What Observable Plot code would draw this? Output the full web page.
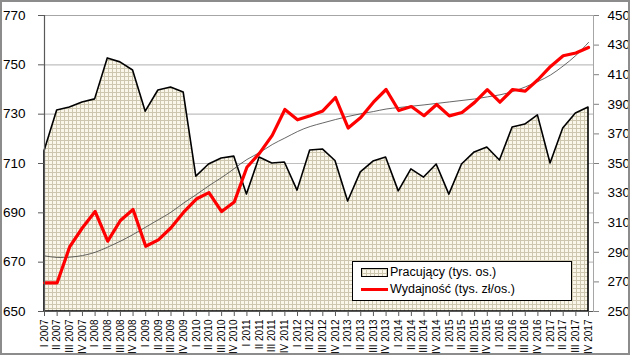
<!DOCTYPE html>
<html>
<head>
<meta charset="utf-8">
<script src="https://cdn.jsdelivr.net/npm/d3@7"></script>
<script src="https://cdn.jsdelivr.net/npm/@observablehq/plot@0.6"></script>
<style>
  html, body { margin: 0; padding: 0; background: #fff; }
  #wrap { position: relative; width: 630px; height: 355px; font-family: "Liberation Sans", Arial, sans-serif; }
  #border { position: absolute; left: 0; top: 0; width: 626px; height: 351px; border: 2px solid #8c8c8c; pointer-events: none; }
  #legend { position: absolute; left: 352px; top: 261px; width: 218px; height: 38px; background: #fff; border: 1px solid #000; font-size: 12.5px; color: #000; }
  .row { position: absolute; left: 8px; display: flex; align-items: center; white-space: nowrap; }
  .sw1 { width: 25px; height: 7px; border: 1px solid #000; margin-right: 2px;
         background-color: #faf7ea;
         background-image: linear-gradient(#cdc7b0 1px, transparent 1px), linear-gradient(90deg, #cdc7b0 1px, transparent 1px);
         background-size: 4px 4px; }
  .sw2 { width: 27px; height: 3px; background: #ff0000; margin-right: 2px; }
</style>
</head>
<body>
<div id="wrap">
  <div id="chart"></div>
  <div id="legend">
    <div class="row" style="top:3px"><div class="sw1"></div><span>Pracujący (tys. os.)</span></div>
    <div class="row" style="top:20px"><div class="sw2"></div><span>Wydajność (tys. zł/os.)</span></div>
  </div>
  <div id="border"></div>
</div>
<script>
const years = [2007, 2008, 2009, 2010, 2011, 2012, 2013, 2014, 2015, 2016, 2017];
const quarterNames = ["I", "II", "III", "IV"];
const quarters = years.flatMap(y => quarterNames.map(q => q + " " + y));

const pracujacy = [715, 731.5, 732.7, 734.7, 736, 752.6, 751, 747.7, 731, 739.6, 740.8, 738.8,
  704.7, 709.6, 712, 712.8, 697.4, 712.4, 710, 710.4, 699, 715.3, 715.7, 711,
  694.6, 706.4, 710.8, 712.4, 698.7, 707.6, 704.3, 709.6, 697.4, 709.6, 714.5, 716.5,
  711.2, 724.6, 725.8, 729.5, 710, 724.2, 730.3, 732.7];

const wydajnosc = [269.4, 269.4, 293.9, 306.6, 317.6, 297.5, 311.5, 318.9, 294.1, 298.4, 306.6, 317.1,
  326, 330.3, 317.5, 324, 347.5, 357, 369, 386.5, 379.5, 382.2, 385.5, 394.6,
  374, 381.1, 391.4, 400, 385.8, 388.5, 382.3, 389.9, 382.2, 384.5, 391.3, 399.9,
  391.4, 400, 398.9, 406.6, 415.6, 422.8, 424.7, 428.4];

const trend = [287.6, 286.5, 286.7, 287.8, 290, 293.5, 297.5, 302, 307, 312, 317.1, 323.3,
  329, 335, 340.5, 346.6, 352.7, 357.4, 362.8, 367.2, 371.6, 375, 377.4, 379.7,
  381.8, 383.6, 385.1, 386.8, 387.8, 388.7, 389.6, 390.6, 391.6, 392.6, 393.6, 395,
  396.4, 398.6, 401.7, 405.4, 409.8, 415.9, 423, 431.8];

const leftTicks = [650, 670, 690, 710, 730, 750, 770];
const rightTicks = [250, 270, 290, 310, 330, 350, 370, 390, 410, 430, 450];

// map right-axis values onto the left-axis scale
const toLeft = d3.scaleLinear().domain([250, 450]).range([650, 770]);

const data = quarters.map((q, i) => ({i, q, prac: pracujacy[i], wyd: wydajnosc[i], tr: trend[i]}));
const idx = quarters.map((q, i) => i);

const chart = Plot.plot({
  width: 630,
  height: 355,
  marginLeft: 44,
  marginRight: 37,
  marginTop: 15,
  marginBottom: 44,
  style: {fontFamily: "'Liberation Sans', Arial, sans-serif", color: "#000", background: "transparent"},
  x: {type: "linear", domain: [0, quarters.length - 1], range: [44, 588]},
  y: {domain: [650, 770], range: [311, 15]},
  marks: [
    Plot.gridY(leftTicks, {stroke: "#bfbfbf", strokeOpacity: 1, strokeWidth: 1.2}),
    Plot.frame({stroke: "#a6a6a6"}),
    Plot.areaY(data, {x: "i", y1: 650, y2: "prac", fill: "url(#hatch)", stroke: "#000", strokeWidth: 1.6}),
    Plot.lineY(data, {x: "i", y: d => toLeft(d.tr), stroke: "#404040", strokeWidth: 0.8, curve: "natural"}),
    Plot.lineY(data, {x: "i", y: d => toLeft(d.wyd), stroke: "#ff0000", strokeWidth: 3.2}),
    Plot.ruleY([650], {stroke: "#595959", strokeWidth: 1.2}),
    Plot.ruleX([0], {stroke: "#595959", strokeWidth: 1.2}),
    Plot.axisY(leftTicks, {anchor: "left", tickSize: 6, tickPadding: 13, fontSize: 13.5, stroke: "#595959", label: null}),
    Plot.axisY(rightTicks.map(v => toLeft(v)), {anchor: "right", tickSize: 5, tickPadding: 9, fontSize: 13.5, stroke: "#808080",
      tickFormat: d => String(Math.round(toLeft.invert(d))), label: null}),
    Plot.axisX(idx, {tickFormat: i => quarters[i], tickRotate: -90, tickSize: 5, tickPadding: 3, fontSize: 10, stroke: "#595959", label: null})
  ]
});

const defs = d3.select(chart).insert("defs", ":first-child");
const pat = defs.append("pattern").attr("id", "hatch").attr("patternUnits", "userSpaceOnUse")
  .attr("width", 4).attr("height", 4);
pat.append("rect").attr("width", 4).attr("height", 4).attr("fill", "#faf7ea");
pat.append("path").attr("d", "M0,0.5H4M0.5,0V4").attr("stroke", "#cdc7b0").attr("stroke-width", 1).attr("fill", "none");

document.getElementById("chart").appendChild(chart);
</script>
</body>
</html>
